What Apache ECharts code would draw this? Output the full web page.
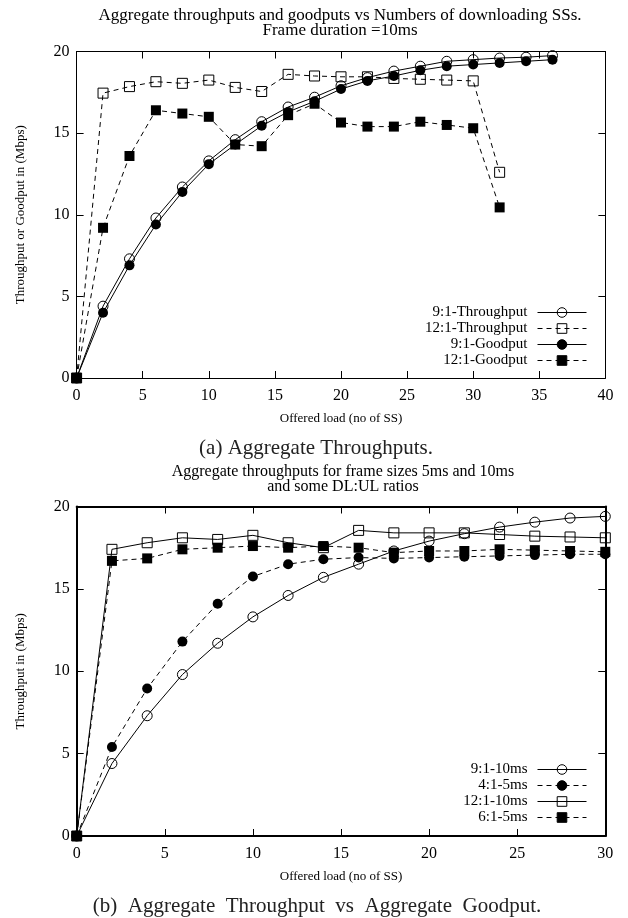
<!DOCTYPE html>
<html>
<head>
<meta charset="utf-8">
<title>Aggregate throughputs</title>
<script src="https://cdn.jsdelivr.net/npm/echarts@6/dist/echarts.min.js"></script>
<style>
  html, body { margin: 0; padding: 0; background: #fff; }
  #chart { width: 628px; height: 918px; }
</style>
</head>
<body>
<div id="chart"></div>
<script>
// (a) offered load 0..36, frame 10ms
var loadA = [0, 2, 4, 6, 8, 10, 12, 14, 16, 18, 20, 22, 24, 26, 28, 30, 32, 34, 36];
var tp91 = [0, 4.4, 7.3, 9.8, 11.7, 13.3, 14.6, 15.7, 16.6, 17.2, 17.9, 18.4, 18.8, 19.1, 19.4, 19.5, 19.6, 19.65, 19.75];
var gp91 = [0, 4.0, 6.9, 9.4, 11.4, 13.1, 14.3, 15.45, 16.3, 16.95, 17.7, 18.2, 18.5, 18.85, 19.1, 19.2, 19.3, 19.4, 19.5];
var loadA12 = [0, 2, 4, 6, 8, 10, 12, 14, 16, 18, 20, 22, 24, 26, 28, 30, 32];
var tp121 = [0, 17.45, 17.85, 18.15, 18.05, 18.25, 17.8, 17.55, 18.6, 18.5, 18.45, 18.45, 18.35, 18.3, 18.25, 18.2, 12.6];
var gp121 = [0, 9.2, 13.6, 16.4, 16.2, 16.0, 14.3, 14.2, 16.1, 16.8, 15.65, 15.4, 15.4, 15.7, 15.5, 15.3, 10.45];

// (b) offered load 0..30, frame sizes 5ms / 10ms
var loadB = [0, 2, 4, 6, 8, 10, 12, 14, 16, 18, 20, 22, 24, 26, 28, 30];
var r91_10 = [0, 4.4, 7.3, 9.8, 11.7, 13.3, 14.6, 15.7, 16.5, 17.3, 17.9, 18.35, 18.75, 19.05, 19.3, 19.4];
var r41_5 = [0, 5.4, 8.95, 11.8, 14.1, 15.75, 16.5, 16.8, 16.9, 16.85, 16.9, 16.95, 17.0, 17.05, 17.1, 17.1];
var r121_10 = [0, 17.4, 17.8, 18.1, 18.0, 18.25, 17.8, 17.5, 18.55, 18.4, 18.4, 18.4, 18.3, 18.2, 18.15, 18.1];
var r61_5 = [0, 16.7, 16.85, 17.4, 17.5, 17.6, 17.5, 17.6, 17.5, 17.2, 17.3, 17.3, 17.4, 17.35, 17.3, 17.25];

var yTicks = [0, 5, 10, 15, 20];

var chart = echarts.init(document.getElementById('chart'));
var FONT = '"Liberation Serif", "DejaVu Serif", serif';

function pairs(xs, ys) {
  return xs.map(function (x, i) { return [x, ys[i]]; });
}

// one line series; open markers get a see-through fill like gnuplot
function line(name, xs, ys, idx, open, shape, dashed) {
  return {
    name: name,
    type: 'line',
    xAxisIndex: idx,
    yAxisIndex: idx,
    data: pairs(xs, ys),
    symbol: shape,
    symbolSize: 10,
    clip: false,
    animation: false,
    lineStyle: { color: '#000', width: 1, type: dashed ? [5, 4] : 'solid' },
    itemStyle: open
      ? { color: 'rgba(255,255,255,0)', borderColor: '#000', borderWidth: 1 }
      : { color: '#000', borderColor: '#000', borderWidth: 0 },
    emphasis: { disabled: true }
  };
}

function xAx(grid, max, pos, lw, name) {
  return {
    type: 'value', gridIndex: grid, position: pos,
    min: 0, max: max, interval: 5,
    name: name, nameLocation: 'middle', nameGap: 34,
    nameTextStyle: { fontFamily: FONT, fontSize: 13, color: '#000' },
    axisLine: { show: true, onZero: false, lineStyle: { color: '#000', width: lw } },
    axisTick: { show: true, inside: true, length: 7, lineStyle: { color: '#000', width: 1 } },
    axisLabel: { show: pos === 'bottom', margin: 10, fontFamily: FONT, fontSize: 16, color: '#000',
                 showMinLabel: true, showMaxLabel: true },
    splitLine: { show: false }
  };
}

function yAx(grid, pos, lw, name) {
  return {
    type: 'value', gridIndex: grid, position: pos,
    min: yTicks[0], max: yTicks[yTicks.length - 1], interval: 5,
    name: name, nameLocation: 'middle', nameGap: 50, nameRotate: 90,
    nameTextStyle: { fontFamily: FONT, fontSize: 13, color: '#000' },
    axisLine: { show: true, onZero: false, lineStyle: { color: '#000', width: lw } },
    axisTick: { show: true, inside: true, length: 7, lineStyle: { color: '#000', width: 1 } },
    axisLabel: { show: pos === 'left', margin: 7, fontFamily: FONT, fontSize: 16, color: '#000' },
    splitLine: { show: false }
  };
}

var legendText = { fontFamily: FONT, fontSize: 15, color: '#000', padding: [0, 5, 0, 0] };

function legend(names, top) {
  return {
    data: names, orient: 'vertical', align: 'right', right: 41, top: top,
    itemWidth: 49, itemHeight: 12, itemGap: 1, padding: 0,
    selectedMode: false, textStyle: legendText,
    lineStyle: { width: 1 },
    itemStyle: { borderWidth: 1 }
  };
}

var option = {
  backgroundColor: '#fff',
  animation: false,
  title: [
    { text: 'Aggregate throughputs and goodputs vs Numbers of downloading SSs.\nFrame duration =10ms',
      left: 335, top: 3, textAlign: 'center',
      textStyle: { fontFamily: FONT, fontSize: 17, fontWeight: 'normal', color: '#000', lineHeight: 15 } },
    { text: '(a) Aggregate Throughputs.', left: 311, top: 433, textAlign: 'center',
      textStyle: { fontFamily: FONT, fontSize: 21, fontWeight: 'normal', color: '#222' } },
    { text: 'Aggregate throughputs for frame sizes 5ms and 10ms\nand some DL:UL ratios',
      left: 338, top: 459, textAlign: 'center',
      textStyle: { fontFamily: FONT, fontSize: 16, fontWeight: 'normal', color: '#000', lineHeight: 15 } },
    { text: '(b)  Aggregate  Throughput  vs  Aggregate  Goodput.', left: 312, top: 891, textAlign: 'center',
      textStyle: { fontFamily: FONT, fontSize: 21, fontWeight: 'normal', color: '#222' } }
  ],
  grid: [
    { left: 76.6, top: 51.5, width: 528.8, height: 326.5, show: false },
    { left: 76.7, top: 506.5, width: 528.6, height: 329.5, show: false }
  ],
  xAxis: [
    xAx(0, 40, 'bottom', 1, 'Offered load (no of SS)'),
    xAx(0, 40, 'top', 1, ''),
    xAx(1, 30, 'bottom', 2, 'Offered load (no of SS)'),
    xAx(1, 30, 'top', 2, '')
  ],
  yAxis: [
    yAx(0, 'left', 1, 'Throughput or Goodput in (Mbps)'),
    yAx(0, 'right', 1, ''),
    yAx(1, 'left', 2, 'Throughput in (Mbps)'),
    yAx(1, 'right', 2, '')
  ],
  legend: [
    legend(['9:1-Throughput', '12:1-Throughput', '9:1-Goodput', '12:1-Goodput'], 305),
    legend(['9:1-10ms', '4:1-5ms', '12:1-10ms', '6:1-5ms'], 762)
  ],
  series: [
    line('9:1-Throughput', loadA, tp91, 0, true, 'circle', false),
    line('12:1-Throughput', loadA12, tp121, 0, true, 'rect', true),
    line('9:1-Goodput', loadA, gp91, 0, false, 'circle', false),
    line('12:1-Goodput', loadA12, gp121, 0, false, 'rect', true),
    line('9:1-10ms', loadB, r91_10, 2, true, 'circle', false),
    line('4:1-5ms', loadB, r41_5, 2, false, 'circle', true),
    line('12:1-10ms', loadB, r121_10, 2, true, 'rect', false),
    line('6:1-5ms', loadB, r61_5, 2, false, 'rect', true)
  ]
};

chart.setOption(option);
window.onresize = function () { chart.resize(); };
</script>
</body>
</html>
